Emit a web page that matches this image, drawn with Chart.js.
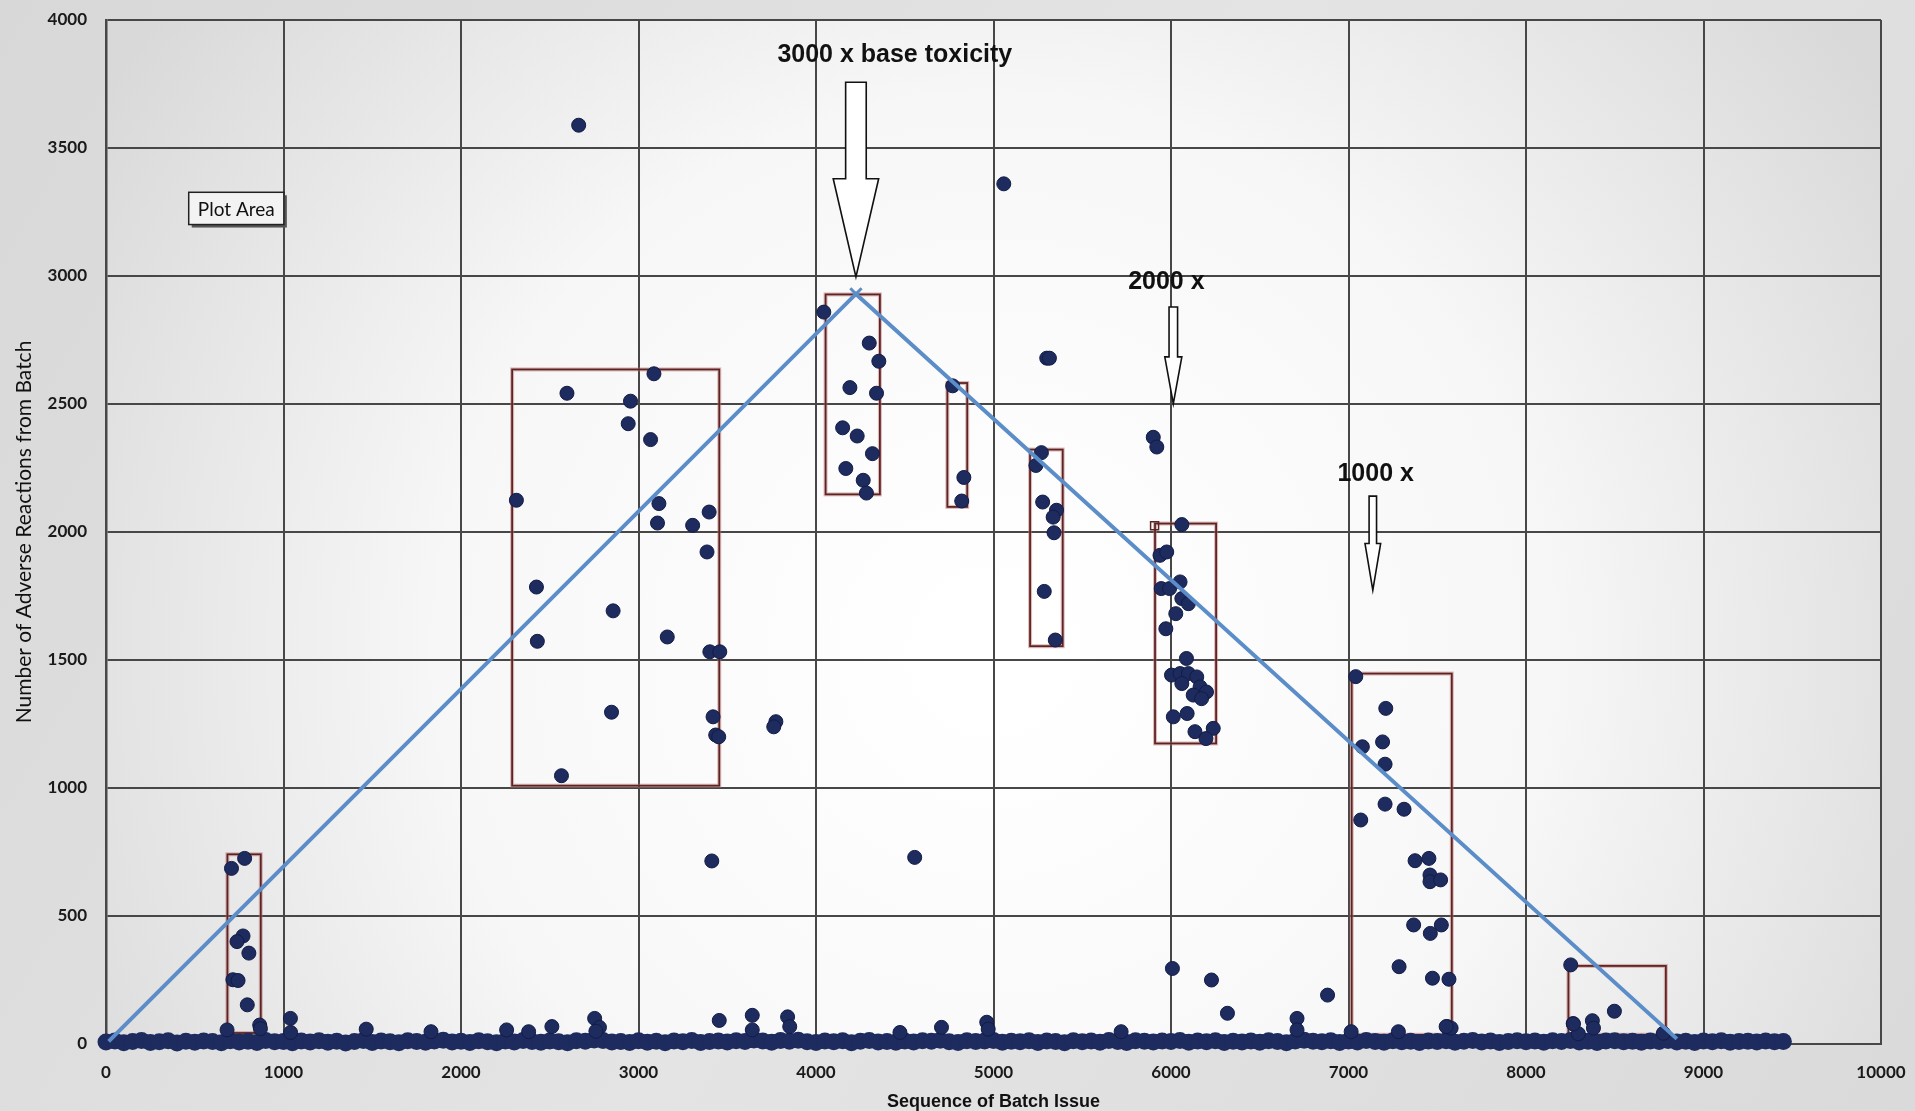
<!DOCTYPE html>
<html><head><meta charset="utf-8">
<script src="https://cdn.jsdelivr.net/npm/chart.js@4/dist/chart.umd.min.js"></script>
<style>html,body{margin:0;padding:0;background:#dedede;overflow:hidden}#wrap{width:1915px;height:1111px;position:relative}</style>
</head><body><div id="wrap"><canvas id="c"></canvas></div>
<script>
// ---------- DATA ----------
const xTickValues = [0,1000,2000,3000,4000,5000,6000,7000,8000,9000,10000];
const yTickValues = [0,500,1000,1500,2000,2500,3000,3500,4000];
const xTitle = 'Sequence of Batch Issue';
const yTitle = 'Number of Adverse Reactions from Batch';

// scattered batches (x = sequence, y = reactions)
const batchX = [2663,5058,4556,3413,3774,3762,5300,5315,5900,5920,6008,6228,6318,6882,6710,6710,
  707,781,772,738,805,715,744,796,866,870,682,1039,1040,
  1466,1831,2257,2381,2512,2753,2780,2760,3455,3641,3641,3840,3852,4473,4707,4962,4970,5719,7015,7281,7557,7578,8266,8374,8380,8498,8295,8774,
  3087,2597,2955,2942,3068,2312,3115,3107,3305,3398,3386,2425,2857,2430,3162,3402,3458,2848,3420,3435,3452,2566,
  4044,4300,4354,4191,4341,4150,4232,4318,4168,4266,4284,
  4770,4833,4821,
  5270,5239,5277,5355,5336,5341,5286,5348,
  6061,5938,5976,5945,5992,6051,6061,6098,6027,5971,6087,6003,6051,6098,6145,6061,6164,6200,6125,6172,6013,6091,6135,6238,6197,
  7041,7210,7078,7192,7206,7206,7313,7069,7375,7453,7459,7459,7519,7367,7461,7523,7285,7473,7566,7550,
  8252,8267];
const batchY = [3589,3360,729,715,1259,1239,2679,2679,2370,2332,295,250,120,191,100,55,
  686,725,422,400,355,251,248,153,74,60,55,100,45,
  58,48,55,48,68,100,65,50,92,112,55,106,68,45,65,85,58,48,48,48,68,62,80,91,62,128,40,42,
  2618,2542,2511,2423,2361,2124,2111,2035,2026,2078,1922,1785,1692,1573,1590,1532,1532,1296,1278,1207,1200,1048,
  2859,2738,2667,2564,2542,2407,2375,2306,2248,2202,2152,
  2571,2213,2121,
  2310,2260,2117,2085,2058,1997,1768,1578,
  2029,1909,1922,1779,1779,1805,1740,1720,1681,1622,1506,1441,1447,1447,1434,1408,1395,1375,1363,1349,1278,1291,1220,1233,1193,
  1435,1311,1161,1180,1093,937,917,875,716,725,660,634,641,465,432,465,302,257,253,68,
  309,78];

// the dense band of low-reaction batches along the bottom
const baseX = [0,50,100,150,200,250,300,350,400,450,500,550,600,650,700,750,800,850,900,950,
  1000,1050,1100,1150,1200,1250,1300,1350,1400,1450,1500,1550,1600,1650,1700,1750,1800,1850,1900,1950,
  2000,2050,2100,2150,2200,2250,2300,2350,2400,2450,2500,2550,2600,2650,2700,2750,2800,2850,2900,2950,
  3000,3050,3100,3150,3200,3250,3300,3350,3400,3450,3500,3550,3600,3650,3700,3750,3800,3850,3900,3950,
  4000,4050,4100,4150,4200,4250,4300,4350,4400,4450,4500,4550,4600,4650,4700,4750,4800,4850,4900,4950,
  5000,5050,5100,5150,5200,5250,5300,5350,5400,5450,5500,5550,5600,5650,5700,5750,5800,5850,5900,5950,
  6000,6050,6100,6150,6200,6250,6300,6350,6400,6450,6500,6550,6600,6650,6700,6750,6800,6850,6900,6950,
  7000,7050,7100,7150,7200,7250,7300,7350,7400,7450,7500,7550,7600,7650,7700,7750,7800,7850,7900,7950,
  8000,8050,8100,8150,8200,8250,8300,8350,8400,8450,8500,8550,8600,8650,8700,8750,8800,8850,8900,8950,
  9000,9050,9100,9150,9200,9250,9300,9350,9400,9450];
const baseY = [8,12,5,10,14,6,9,13,4,11, 7,12,10,5,13,8,11,6,14,9,
  10,5,12,8,13,7,11,4,10,14, 6,12,9,5,13,10,7,12,15,8,
  11,6,13,9,5,12,8,14,10,7, 12,9,5,13,11,16,14,8,10,6,
  13,7,11,5,12,9,14,6,10,12, 8,13,10,16,12,7,14,11,15,9,
  6,12,9,13,5,11,14,8,10,7, 12,8,13,11,15,9,6,13,10,12,
  14,7,11,9,13,6,12,10,5,13, 9,12,7,14,10,6,13,11,8,12,
  10,14,7,12,9,13,6,11,8,12, 7,13,10,5,12,15,11,9,13,6,
  12,8,14,10,7,13,9,11,6,12, 10,13,7,11,14,8,12,6,10,13,
  9,12,7,13,10,14,8,11,6,12, 13,9,11,7,12,10,14,8,11,6,
  12,9,13,7,10,11,8,12,9,10];

// toxicity trend line
const trendX = [15,4225,8850];
const trendY = [10,2930,20];

// highlighted groups (rectangles): x0,x1,y0,y1
const boxX0 = [684,2288,4054,4740,5206,5910,7018,8239];
const boxX1 = [872,3455,4360,4852,5390,6254,7582,8788];
const boxY0 = [43,1009,2147,2098,1554,1174,36,36];
const boxY1 = [741,2635,2928,2582,2322,2033,1447,305];

// annotations
const noteText = ['3000 x base toxicity','2000 x','1000 x'];
const noteX = [4444,5974,7153];
const noteY = [3862,2977,2228];
// arrows: tip x, shaft half width, head half width, shaft top, head base, tip y
const arrowX = [4225,6013,7137];
const arrowShaftHalf = [58,24,21];
const arrowHeadHalf = [128,48,44];
const arrowTop = [3757,2879,2140];
const arrowBase = [3380,2684,1955];
const arrowTip = [2996,2501,1773];

const plotAreaLabel = 'Plot Area';

// ---------- CHART ----------
const pts = (xs, ys) => xs.map((x,i)=>({x:x, y:ys[i]}));

const deco = {
  id:'deco',
  beforeDraw(chart){
    const {ctx, chartArea:a, width, height} = chart;
    ctx.save();
    const g = ctx.createLinearGradient(0,0,width,height);
    g.addColorStop(0,'#d8d8d8'); g.addColorStop(0.5,'#e4e4e4'); g.addColorStop(1,'#dadada');
    ctx.fillStyle = g; ctx.fillRect(0,0,width,height);
    const cx=(a.left+a.right)/2, cy=(a.top+a.bottom)/2+120;
    const r = ctx.createRadialGradient(cx,cy,60,cx,cy,1050);
    r.addColorStop(0,'#ffffff'); r.addColorStop(0.5,'#f7f7f7'); r.addColorStop(1,'#d9d9d9');
    ctx.fillStyle = r; ctx.fillRect(a.left,a.top,a.right-a.left,a.bottom-a.top);
    ctx.restore();
  },
  beforeDatasetsDraw(chart){
    const {ctx, scales:{x,y}} = chart;
    ctx.save();
    for (let i=0;i<boxX0.length;i++){
      const l=x.getPixelForValue(boxX0[i]), r=x.getPixelForValue(boxX1[i]);
      const t=y.getPixelForValue(boxY1[i]), b=y.getPixelForValue(boxY0[i]);
      ctx.strokeStyle='rgba(190,120,120,0.5)'; ctx.lineWidth=4;
      ctx.strokeRect(l,t,r-l,b-t);
      ctx.strokeStyle='#5e2424'; ctx.lineWidth=1.8;
      ctx.strokeRect(l,t,r-l,b-t);
    }
    const sl=x.getPixelForValue(5885), st=y.getPixelForValue(2040);
    ctx.strokeStyle='#5e2424'; ctx.lineWidth=1.5;
    ctx.strokeRect(sl,st,8,8);
    ctx.restore();
  },
  afterDraw(chart){
    const {ctx, scales:{x,y}} = chart;
    ctx.save();
    for (let i=0;i<arrowX.length;i++){
      const cx=x.getPixelForValue(arrowX[i]);
      const sw=x.getPixelForValue(arrowX[i]+arrowShaftHalf[i])-cx;
      const hw=x.getPixelForValue(arrowX[i]+arrowHeadHalf[i])-cx;
      const top=y.getPixelForValue(arrowTop[i]), base=y.getPixelForValue(arrowBase[i]), tip=y.getPixelForValue(arrowTip[i]);
      ctx.beginPath();
      ctx.moveTo(cx-sw,top); ctx.lineTo(cx+sw,top); ctx.lineTo(cx+sw,base);
      ctx.lineTo(cx+hw,base); ctx.lineTo(cx,tip); ctx.lineTo(cx-hw,base);
      ctx.lineTo(cx-sw,base); ctx.closePath();
      ctx.fillStyle='#ffffff'; ctx.fill();
      ctx.strokeStyle='#111'; ctx.lineWidth=1.6; ctx.stroke();
    }
    ctx.fillStyle='#111';
    ctx.font='bold 25px "Liberation Sans", Arial, sans-serif';
    ctx.textAlign='center'; ctx.textBaseline='middle';
    for (let i=0;i<noteText.length;i++){
      ctx.fillText(noteText[i], x.getPixelForValue(noteX[i]), y.getPixelForValue(noteY[i]));
    }
    const l=x.getPixelForValue(466), r=x.getPixelForValue(1002);
    const t=y.getPixelForValue(3327), b=y.getPixelForValue(3201);
    ctx.fillStyle='#555'; ctx.fillRect(l+3,t+3,r-l,b-t);
    ctx.fillStyle='#f3f3f3'; ctx.fillRect(l,t,r-l,b-t);
    ctx.strokeStyle='#222'; ctx.lineWidth=1.5; ctx.strokeRect(l,t,r-l,b-t);
    ctx.fillStyle='#111'; ctx.font='19px Lato, "Open Sans", sans-serif';
    ctx.fillText(plotAreaLabel,(l+r)/2,(t+b)/2+1);
    ctx.restore();
  }
};

const tickFont = {family:'Lato, "Open Sans", sans-serif', size:17, weight:'bold'};

new Chart(document.getElementById('c'), {
  type:'scatter',
  data:{
    datasets:[
      {type:'line', data:pts(trendX,trendY), borderColor:'#5b8dc8', borderWidth:4,
       pointRadius:[0,8,0], pointStyle:'crossRot', pointBorderColor:'#5b8dc8', pointBorderWidth:3,
       fill:false, tension:0, order:0},
      {data:pts(batchX,batchY), order:1, pointRadius:7, pointHoverRadius:7,
       backgroundColor:'#1d2b5f', borderColor:'#121c45', borderWidth:1, clip:false},
      {type:'line', data:pts(baseX,baseY), order:2, showLine:true, borderColor:'#1d2b5f', borderWidth:14,
       borderCapStyle:'round', tension:0, fill:false,
       pointRadius:8.5, pointHoverRadius:8.5, pointBackgroundColor:'#1d2b5f', pointBorderWidth:0, clip:false}
    ]
  },
  options:{
    responsive:true, maintainAspectRatio:false, animation:false,
    devicePixelRatio:1,
    layout:{padding:{left:0,top:20,right:34,bottom:0}},
    plugins:{legend:{display:false}, tooltip:{enabled:false}},
    scales:{
      x:{type:'linear', min:0, max:10000,
        afterBuildTicks(s){ s.ticks = xTickValues.map(v=>({value:v})); },
        afterFit(s){ s.height = 67; s.paddingLeft = 0; s.paddingRight = 0; },
        grid:{color:'#474747', lineWidth:2, drawTicks:false},
        border:{color:'#474747', width:2},
        ticks:{padding:18, color:'#1a1a1a', font:tickFont, maxRotation:0, callback:v=>String(v)},
        title:{display:true, text:xTitle, color:'#111', font:{family:'"Liberation Sans Narrow", "Liberation Sans", Arial, sans-serif', size:18, weight:'bold', lineHeight:1}, padding:{top:0,bottom:0}}
      },
      y:{type:'linear', min:0, max:4000,
        afterBuildTicks(s){ s.ticks = yTickValues.map(v=>({value:v})); },
        afterFit(s){ s.width = 106; s.paddingTop = 0; s.paddingBottom = 0; },
        grid:{color:'#474747', lineWidth:2, drawTicks:false},
        border:{color:'#474747', width:2.5},
        ticks:{padding:19, color:'#1a1a1a', font:tickFont, callback:v=>String(v)},
        title:{display:true, text:yTitle, color:'#111', font:{family:'Lato, "Open Sans", sans-serif', size:21, lineHeight:1}, padding:{top:14,bottom:0}}
      }
    }
  },
  plugins:[deco]
});
</script>
</body></html>
